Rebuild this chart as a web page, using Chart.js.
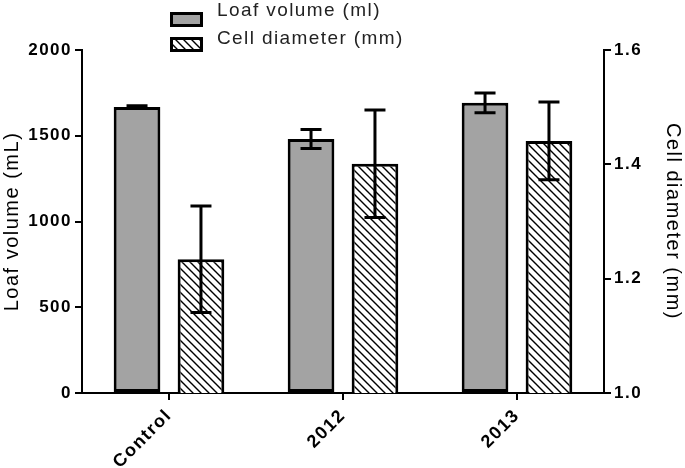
<!DOCTYPE html>
<html><head><meta charset="utf-8">
<script src="https://cdn.jsdelivr.net/npm/chart.js@4"></script>
<style>html,body{margin:0;padding:0;background:#fff}#c{display:block}</style>
</head><body>
<canvas id="c" width="685" height="468"></canvas>
<script>
const categories = ['Control', '2012', '2013'];
const loafVolume = [1667, 1481, 1692];
const loafVolumeErr = [8, 55, 58];
const cellDiameter = [1.234, 1.401, 1.441];
const cellDiameterErr = [0.093, 0.094, 0.068];
const leftTicks = [0, 500, 1000, 1500, 2000];
const rightTicks = [1.0, 1.2, 1.4, 1.6];
const seriesNames = ['Loaf volume (ml)', 'Cell diameter (mm)'];

const FONT = "'Liberation Sans', Arial, sans-serif";
const canvas = document.getElementById('c');
const mainCtx = canvas.getContext('2d');

function makeHatch() {
  const p = document.createElement('canvas');
  p.width = 8; p.height = 8;
  const g = p.getContext('2d');
  g.fillStyle = '#fff'; g.fillRect(0, 0, 8, 8);
  g.strokeStyle = '#000'; g.lineWidth = 1.4;
  g.beginPath();
  g.moveTo(-2, -2); g.lineTo(10, 10);
  g.moveTo(-2, 6); g.lineTo(2, 10);
  g.moveTo(6, -2); g.lineTo(10, 2);
  g.stroke();
  return mainCtx.createPattern(p, 'repeat');
}
const hatch = makeHatch();
const GRAY = '#a3a3a3';

const spacingPlugin = {
  id: 'spacing',
  beforeUpdate(chart) { chart.ctx.letterSpacing = '1.5px'; },
  beforeDraw(chart) { chart.ctx.letterSpacing = '1.5px'; }
};

const errPlugin = {
  id: 'errbars',
  afterDatasetsDraw(chart) {
    const ctx = chart.ctx;
    [[0, loafVolume, loafVolumeErr, 'y'], [1, cellDiameter, cellDiameterErr, 'y1']].forEach(([di, vals, errs, ax]) => {
      const meta = chart.getDatasetMeta(di);
      const sc = chart.scales[ax];
      meta.data.forEach((bar, i) => {
        const x = bar.x;
        const yt = sc.getPixelForValue(vals[i] + errs[i]);
        const yb = sc.getPixelForValue(vals[i] - errs[i]);
        ctx.save();
        ctx.strokeStyle = '#000'; ctx.lineWidth = 3; ctx.lineCap = 'butt';
        ctx.beginPath();
        ctx.moveTo(x, yt); ctx.lineTo(x, yb);
        ctx.moveTo(x - 10.5, yt); ctx.lineTo(x + 10.5, yt);
        ctx.moveTo(x - 10.5, yb); ctx.lineTo(x + 10.5, yb);
        ctx.stroke();
        ctx.restore();
      });
    });
  }
};

const legendPlugin = {
  id: 'customLegend',
  afterDraw(chart) {
    const ctx = chart.ctx;
    const rows = [{fill: GRAY, by: 12, ty: 11}, {fill: hatch, by: 37, ty: 39}];
    rows.forEach((r, i) => {
      ctx.save();
      ctx.fillStyle = r.fill;
      ctx.fillRect(170, r.by, 33, 15);
      ctx.strokeStyle = '#000'; ctx.lineWidth = 3;
      ctx.strokeRect(171.5, r.by + 1.5, 30, 12);
      ctx.fillStyle = '#222';
      ctx.font = '19px ' + FONT;
      ctx.letterSpacing = '1.4px';
      ctx.textBaseline = 'middle';
      ctx.textAlign = 'left';
      ctx.fillText(seriesNames[i], 217, r.ty);
      ctx.restore();
    });
  }
};

const yTickFont = {family: FONT, size: 17, weight: 'bold'};
const xTickFont = {family: FONT, size: 18, weight: 'bold'};
const titleFont = {family: FONT, size: 20, weight: 'normal'};
const axisGrid = {display: true, drawOnChartArea: false, drawTicks: true, tickLength: 7, color: '#000', lineWidth: 2};

new Chart(canvas, {
  type: 'bar',
  data: {
    labels: categories,
    datasets: [
      {label: seriesNames[0], data: loafVolume, yAxisID: 'y', backgroundColor: GRAY, borderColor: '#000', borderWidth: 3, borderSkipped: false},
      {label: seriesNames[1], data: cellDiameter, yAxisID: 'y1', backgroundColor: hatch, borderColor: '#000', borderWidth: 3, borderSkipped: false}
    ]
  },
  options: {
    responsive: false,
    animation: false,
    devicePixelRatio: 1,
    categoryPercentage: 0.735,
    barPercentage: 0.73,
    layout: {padding: {top: 50, left: 0, right: 0, bottom: 0}},
    plugins: {legend: {display: false}, tooltip: {enabled: false}},
    scales: {
      x: {
        offset: true,
        grid: Object.assign({}, axisGrid, {offset: false}),
        border: {display: true, color: '#000', width: 2},
        ticks: {color: '#000', font: xTickFont, maxRotation: 45, minRotation: 45, padding: 5},
        afterFit(s) { s.height = 75; }
      },
      y: {
        position: 'left', min: 0, max: 2000,
        afterBuildTicks(s) { s.ticks = leftTicks.map(v => ({value: v})); },
        grid: axisGrid,
        border: {display: true, color: '#000', width: 2},
        ticks: {color: '#000', font: yTickFont, padding: 3, callback: v => String(v)},
        title: {display: true, text: 'Loaf volume (mL)', color: '#000', font: titleFont, padding: {top: 0, bottom: 0}},
        afterFit(s) { s.width = 82; }
      },
      y1: {
        position: 'right', min: 1.0, max: 1.6,
        afterBuildTicks(s) { s.ticks = rightTicks.map(v => ({value: v})); },
        grid: axisGrid,
        border: {display: true, color: '#000', width: 2},
        ticks: {color: '#000', font: yTickFont, padding: 3, callback: v => Number(v).toFixed(1)},
        title: {display: true, text: 'Cell diameter (mm)', color: '#000', font: titleFont, padding: {top: 0, bottom: 0}},
        afterFit(s) { s.width = 81; }
      }
    }
  },
  plugins: [spacingPlugin, errPlugin, legendPlugin]
});
</script>
</body></html>
